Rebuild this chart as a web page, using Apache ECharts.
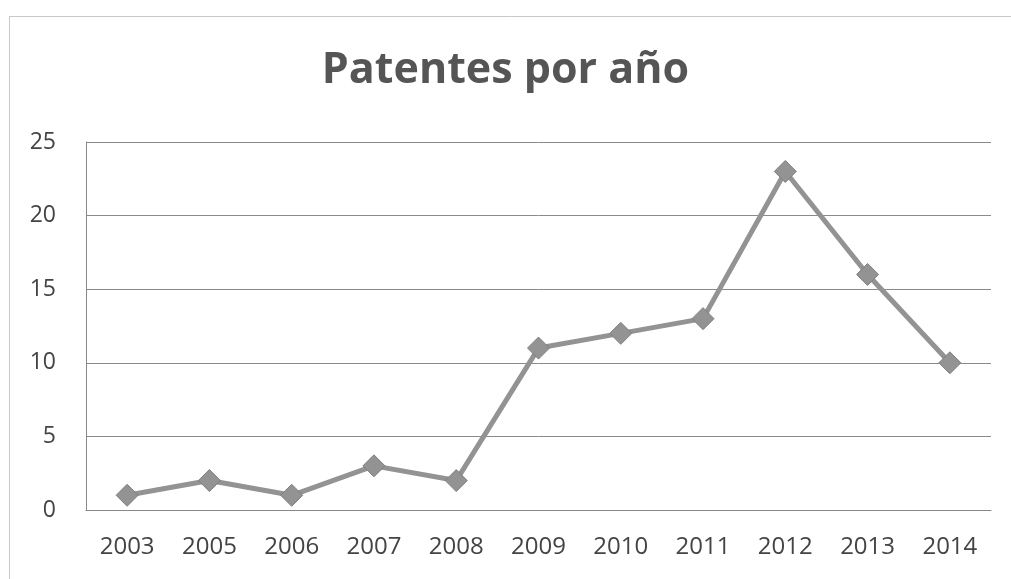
<!DOCTYPE html>
<html><head><meta charset="utf-8">
<script src="https://cdn.jsdelivr.net/npm/echarts@6/dist/echarts.min.js"></script>
<style>html,body{margin:0;padding:0;background:#fff}#c{width:1011px;height:579px}</style>
</head><body><div id="c"></div>
<script>
const categories = ['2003','2005','2006','2007','2008','2009','2010','2011','2012','2013','2014'];
const patentes = [1, 2, 1, 3, 2, 11, 12, 13, 23, 16, 10];
const yTicks = { min: 0, max: 25, interval: 5 };

const chart = echarts.init(document.getElementById('c'), null, { renderer: 'canvas' });
chart.setOption({
  backgroundColor: '#fff',
  animation: false,
  title: {
    text: 'Patentes por año',
    left: 'center',
    top: 44,
    textStyle: { fontFamily: 'Open Sans', fontSize: 43, fontWeight: 'bold', color: '#555' }
  },
  graphic: [{
    type: 'rect', left: 7, top: 14,
    shape: { width: 1002, height: 570 },
    style: { fill: 'none', stroke: '#c8c8c8', lineWidth: 1 }
  }],
  grid: { left: 86, right: 20, top: 142, bottom: 69 },
  xAxis: {
    type: 'category',
    data: categories,
    boundaryGap: true,
    axisLine: { lineStyle: { color: '#888', width: 1 } },
    axisTick: { show: false },
    axisLabel: { fontFamily: 'Open Sans', fontSize: 24, color: '#444', margin: 25 }
  },
  yAxis: {
    type: 'value',
    min: yTicks.min, max: yTicks.max, interval: yTicks.interval,
    axisLine: { show: true, lineStyle: { color: '#888', width: 1 } },
    axisTick: { show: false },
    splitLine: { lineStyle: { color: '#8a8a8a', width: 1 } },
    axisLabel: { fontFamily: 'Open Sans', fontSize: 23, color: '#444', margin: 30 }
  },
  series: [{
    type: 'line',
    data: patentes,
    symbol: 'diamond',
    symbolSize: 22,
    lineStyle: { color: '#939393', width: 5 },
    itemStyle: { color: '#939393', borderColor: '#7f7f7f', borderWidth: 1 }
  }]
});
</script></body></html>
